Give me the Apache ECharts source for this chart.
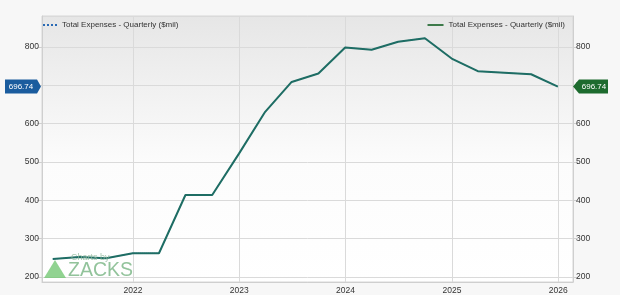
<!DOCTYPE html>
<html>
<head>
<meta charset="utf-8">
<script src="https://cdn.jsdelivr.net/npm/echarts@6/dist/echarts.min.js"></script>
<style>
html,body{margin:0;padding:0;background:#f7f7f7;}
#c{width:620px;height:295px;}
</style>
</head>
<body>
<div id="c"></div>
<script>
const dates = ['2021-03-31','2021-06-30','2021-09-30','2021-12-31','2022-03-31','2022-06-30','2022-09-30','2022-12-31','2023-03-31','2023-06-30','2023-09-30','2023-12-31','2024-03-31','2024-06-30','2024-09-30','2024-12-31','2025-03-31','2025-06-30','2025-09-30','2025-12-31'];
const expenses = [247, 252, 249, 262, 262, 414, 414, 522, 631, 709, 731, 799, 793, 814, 823, 770, 737, 733, 729, 696.74];
const seriesName = 'Total Expenses - Quarterly ($mil)';
const yearLabels = ['2022','2023','2024','2025','2026'];

const pairs = dates.map((d, i) => [d, expenses[i]]);
const lastVal = expenses[expenses.length - 1];

const chart = echarts.init(document.getElementById('c'), null, {renderer: 'canvas'});
const yCommon = {
  type: 'value', min: 187, max: 881, splitNumber: 7,
  axisLine: {show: true, lineStyle: {color: '#cfcfcf'}},
  axisTick: {show: true, length: 5, lineStyle: {color: '#cfcfcf'}},
  axisLabel: {color: '#333', fontSize: 8.5, fontFamily: 'Liberation Sans, Arial', margin: 3, showMinLabel: false, showMaxLabel: false},
  splitLine: {show: true, lineStyle: {color: '#dadada', width: 1}}
};
chart.setOption({
  backgroundColor: '#f7f7f7',
  animation: false,
  grid: {
    left: 42, right: 47, top: 16, bottom: 13, show: true,
    borderColor: '#d6d6d6', borderWidth: 1,
    backgroundColor: {type: 'linear', x: 0, y: 0, x2: 0, y2: 1, colorStops: [
      {offset: 0, color: '#e6e6e6'}, {offset: 0.55, color: '#fcfcfc'}, {offset: 1, color: '#ffffff'}]}
  },
  legend: [
    {left: 38, top: 16, itemWidth: 14, itemHeight: 8, itemGap: 4,
     textStyle: {fontSize: 8, color: '#333', fontFamily: 'Liberation Sans, Arial'},
     data: [{name: seriesName + ' ', icon: 'path://M0,0H2V2H0ZM4,0H6V2H4ZM8,0H10V2H8ZM12,0H14V2H12Z', itemStyle: {color: '#2a6ab5'}}]},
    {right: 50, top: 16, itemWidth: 16, itemHeight: 8, itemGap: 4,
     textStyle: {fontSize: 8, color: '#333', fontFamily: 'Liberation Sans, Arial'},
     data: [{name: seriesName, icon: 'path://M0,0H16V2H0Z', itemStyle: {color: '#3d7a4a'}}]}
  ],
  xAxis: {
    type: 'time',
    min: +new Date('2021-02-22'), max: +new Date('2026-02-21'),
    minInterval: 365 * 24 * 3600 * 1000, splitNumber: 5,
    axisLine: {show: true, lineStyle: {color: '#cfcfcf'}},
    axisTick: {show: false},
    axisLabel: {color: '#333', fontSize: 8.5, fontFamily: 'Liberation Sans, Arial', margin: 4,
      showMinLabel: false, showMaxLabel: false,
      formatter: v => String(new Date(v).getFullYear())},
    splitLine: {show: true, lineStyle: {color: '#dadada', width: 1}}
  },
  yAxis: [Object.assign({position: 'left'}, yCommon), Object.assign({position: 'right'}, yCommon, {splitLine: {show: false}})],
  series: [
    {name: seriesName + ' ', type: 'line', yAxisIndex: 0, data: pairs, symbol: 'none',
     lineStyle: {color: '#2a6ab5', width: 1, type: 'dotted'}, itemStyle: {color: '#2a6ab5'}, z: 2},
    {name: seriesName, type: 'line', yAxisIndex: 1, data: pairs, symbol: 'none',
     lineStyle: {color: '#1e6d64', width: 2}, itemStyle: {color: '#3d7a4a'}, z: 3}
  ]
});

const yPix = chart.convertToPixel({yAxisIndex: 0}, lastVal);
const gl = 42, gr = 620 - 47;
const lbl = lastVal.toFixed(2);
chart.setOption({
  graphic: [
    {type: 'polygon', shape: {points: [[5, yPix - 7], [gl - 5, yPix - 7], [gl - 1, yPix], [gl - 5, yPix + 7], [5, yPix + 7]]},
     style: {fill: '#1a5c9e'}, z: 10},
    {type: 'text', x: (5 + gl - 5) / 2, y: yPix, style: {text: lbl, fill: '#fff', fontSize: 8, fontFamily: 'Liberation Sans, Arial', align: 'center', verticalAlign: 'middle'}, z: 11},
    {type: 'polygon', shape: {points: [[gr, yPix], [gr + 6, yPix - 7], [gr + 35, yPix - 7], [gr + 35, yPix + 7], [gr + 6, yPix + 7]]},
     style: {fill: '#1d6b2e'}, z: 10},
    {type: 'text', x: gr + 21, y: yPix, style: {text: lbl, fill: '#fff', fontSize: 8, fontFamily: 'Liberation Sans, Arial', align: 'center', verticalAlign: 'middle'}, z: 11},
    {type: 'polygon', shape: {points: [[55, 260], [44, 278], [66, 278]]}, style: {fill: '#6cc46c', opacity: 0.75}, z: 5},
    {type: 'text', x: 68, y: 270.5, style: {text: 'ZACKS', fill: '#7fb98a', opacity: 0.85, fontSize: 19.5, fontFamily: 'Liberation Sans, Arial', verticalAlign: 'middle'}, z: 5},
    {type: 'text', x: 71, y: 258, style: {text: 'Charts by', fill: '#8fb89a', opacity: 0.8, fontSize: 9, fontFamily: 'Liberation Sans, Arial', verticalAlign: 'middle'}, z: 5}
  ]
});
</script>
</body>
</html>
